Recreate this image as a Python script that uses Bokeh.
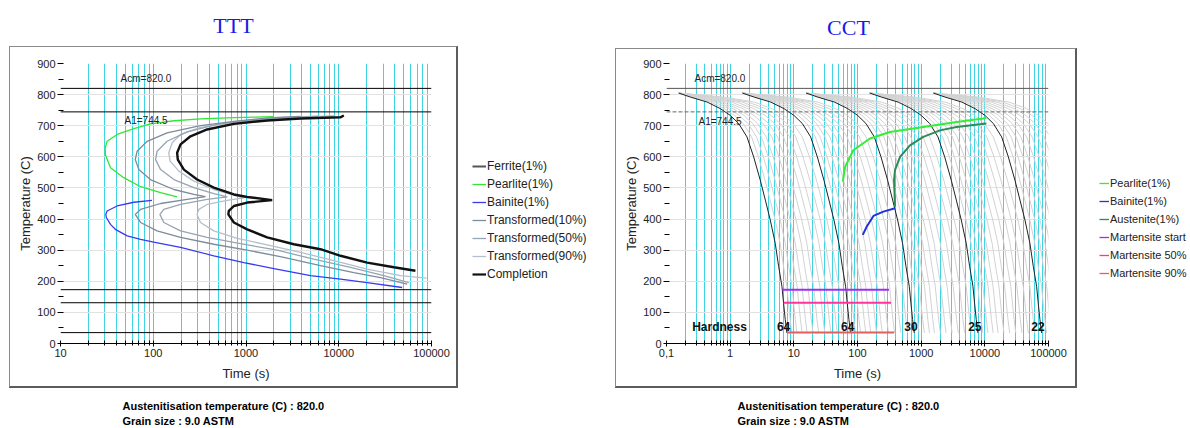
from bokeh.plotting import figure
from bokeh.models import (Span, Label, Legend, LegendItem, FixedTicker,
                          CustomJSTickFormatter, Range1d)
from bokeh.layouts import row, column
from bokeh.embed import file_html
from bokeh.resources import INLINE
from bokeh.core.properties import value

# ---------------- data ----------------
acm_T = 820.0
a1_T = 744.5
mart_T = [173, 131, 35]          # Ms, M50, M90

# TTT curves (time s, temperature C)
ttt_pearlite_t = [2000, 739, 323, 167, 93, 61.8, 40.8, 31.8, 30.3, 30.5, 34.6, 48, 73, 120, 181]
ttt_pearlite_T = [729, 726, 722, 716, 706, 691, 672, 650, 628, 607, 565, 533, 504, 485, 471]

ttt_bainite_t = [97, 61.8, 40.8, 31.8, 30.8, 31.2, 34.6, 39, 52.4, 73, 101, 197, 450, 948, 2000, 4960, 10450, 20240, 48300]
ttt_bainite_T = [460, 454, 442, 426, 415, 405, 383, 367, 346, 335, 326, 309, 282, 260, 241, 218, 207, 196, 180]

ttt_tr10_t = [3870, 1690, 740, 323, 141, 86, 67, 64, 70, 93, 167, 274, 366, 232, 120, 73, 64, 73, 110, 197, 450, 1030, 2560, 6350, 14550, 28200, 54700]
ttt_tr10_T = [730, 725, 714, 700, 677, 650, 618, 591, 559, 527, 495, 479, 472, 463, 450, 431, 415, 389, 362, 341, 319, 300, 277, 250, 228, 212, 191]

ttt_tr50_t = [6000, 2560, 1120, 489, 232, 141, 110, 106, 120, 167, 274, 450, 627, 381, 197, 130, 118, 130, 197, 381, 870, 2170, 5380, 13400, 30600, 57000]
ttt_tr50_T = [731, 727, 719, 704, 680, 650, 618, 591, 559, 527, 501, 482, 471, 463, 447, 431, 415, 389, 362, 341, 321, 300, 271, 245, 218, 196]

ttt_tr90_t = [8850, 3870, 1690, 740, 323, 197, 160, 147, 152, 189, 274, 450, 740, 948, 627, 381, 310, 297, 323, 450, 804, 1690, 3870, 8850, 20240, 46300, 88300]
ttt_tr90_T = [732, 727, 720, 711, 695, 672, 645, 613, 586, 554, 522, 495, 477, 468, 460, 447, 431, 415, 389, 362, 338, 317, 293, 266, 239, 218, 210]

ttt_comp_t = [11350, 10400, 3870, 1690, 740, 381, 252, 197, 181, 184, 214, 297, 450, 740, 1030, 1915, 1030, 740, 653, 645, 740, 1030, 1690, 3280, 6350, 10450, 20240, 39300, 67100]
ttt_comp_T = [733, 727, 723, 717, 706, 688, 666, 640, 613, 591, 559, 527, 501, 479, 471, 461, 453, 442, 426, 415, 389, 367, 341, 319, 303, 282, 260, 245, 234]

# CCT cooling curves: reference curve (fastest black one) and the per-decade groups
cct_base_t = [0.156, 0.238, 0.434, 0.701, 1.007, 1.361, 1.837, 2.339, 2.97, 3.565, 4.266, 5.105, 5.77, 6.50, 6.90, 7.33, 7.78]
cct_base_T = [805, 792, 776, 755, 733, 707, 664, 600, 525, 461, 397, 322, 248, 184, 130, 77, 34]
cct_group_scale = [1, 10, 100, 1000, 10000]
cct_gray_stretch = [1.2, 1.45, 1.75, 2.1, 2.6, 3.2, 4.0, 5.0, 6.3, 8.0]
hardness = ["64", "64", "30", "25", "22"]
hardness_t = [6.9, 70, 690, 6970, 68500]
hardness_T = 54

cct_pearlite_t = [58.7, 64, 86, 157, 324, 1080, 3600, 9420, 10600]
cct_pearlite_T = [520, 568, 621, 659, 680, 696, 712, 723, 726]
cct_austenite_t = [388, 375, 388, 466, 667, 1080, 1970, 3600, 10600]
cct_austenite_T = [440, 525, 557, 600, 637, 664, 685, 696, 707]
cct_bainite_t = [121, 140, 178, 255, 388]
cct_bainite_T = [349, 376, 410, 424, 435]
cct_mart_start = [6.5, 6.9, 7.8]
cct_mart_end = [312, 336, 375]

# ---------------- style ----------------
CYAN = "#3fd4e4"
FONT = "Liberation Sans"
MID_H = 342

TTT_COLORS = {"fer": "#555555", "pea": "#33e633", "bai": "#3a3aee", "tr10": "#7d8b9b",
              "tr50": "#97a4b3", "tr90": "#b4bfcb", "com": "#111111"}
CCT_COLORS = {"pea": "#33ee33", "bai": "#2233dd", "aus": "#2e8b57",
              "ms": "#9b30f0", "m50": "#ff3399", "m90": "#e06060"}


def panel_box_css(l, t, r, b):
    w, h = r - l, b - t
    light, dark = "#8a8a8a", "#5c5c5c"
    g = lambda c: "linear-gradient(%s,%s)" % (c, c)
    return {"background": ", ".join([
        "%s %dpx %dpx/%dpx 1px no-repeat" % (g(light), l, t, w),
        "%s %dpx %dpx/1px %dpx no-repeat" % (g(light), l, t, h),
        "%s %dpx %dpx/2px %dpx no-repeat" % (g(dark), r - 1, t, h + 1),
        "%s %dpx %dpx/%dpx 2px no-repeat" % (g(dark), l, b - 1, w + 1),
        "#ffffff"])}


def blank_fig(width, height, xr=(0, 1), yr=(0, 1)):
    p = figure(width=width, height=height, x_range=Range1d(*xr), y_range=Range1d(*yr),
               output_backend="svg", toolbar_location=None,
               x_axis_location=None, y_axis_location=None,
               min_border_left=0, min_border_right=0, min_border_top=0, min_border_bottom=0)
    p.grid.visible = False
    p.outline_line_color = None
    p.background_fill_color = "white"
    p.border_fill_color = "white"
    return p


def decade_ticker(lo, hi):
    majors = [10.0 ** e for e in range(lo, hi + 1)]
    minors = [k * 10.0 ** e for e in range(lo, hi) for k in range(2, 10)]
    return FixedTicker(ticks=majors, minor_ticks=minors)


def make_fig(width, xr, lo, hi, ml, mr, mt, mb, fmt):
    p = figure(width=width, height=MID_H, x_axis_type="log", x_range=Range1d(*xr),
               y_range=Range1d(0, 900), output_backend="svg", toolbar_location=None,
               min_border_left=ml, min_border_right=mr, min_border_top=mt, min_border_bottom=mb)
    p.outline_line_color = None
    p.background_fill_color = "white"
    p.border_fill_color = None
    xt = decade_ticker(lo, hi)
    yt = FixedTicker(ticks=list(range(0, 901, 100)), minor_ticks=list(range(50, 900, 100)))
    p.xaxis.ticker = xt
    p.yaxis.ticker = yt
    p.xgrid.ticker = xt
    p.ygrid.ticker = yt
    p.xgrid.grid_line_color = CYAN
    p.xgrid.minor_grid_line_color = CYAN
    p.ygrid.grid_line_color = "#e2e2e2"
    p.xaxis.formatter = CustomJSTickFormatter(code=fmt)
    for ax in (p.xaxis[0], p.yaxis[0]):
        ax.major_label_text_font = FONT
        ax.major_label_text_font_size = "11px"
        ax.major_label_text_color = "#222222"
        ax.axis_label_text_font = FONT
        ax.axis_label_text_font_size = "13px"
        ax.axis_label_text_font_style = "normal"
        ax.axis_label_text_color = "#222222"
        ax.major_tick_line_color = "black"
        ax.minor_tick_line_color = "black"
        ax.major_tick_in = 3
        ax.major_tick_out = 3
        ax.minor_tick_in = 3
        ax.minor_tick_out = 2
        ax.major_label_standoff = 2
    p.xaxis.axis_label_standoff = 6
    p.yaxis.axis_label_standoff = 1
    p.xaxis.axis_line_color = "black"
    p.yaxis.axis_line_color = None
    p.xaxis.axis_label = "Time (s)"
    p.yaxis.axis_label = "Temperature (C)"
    return p


def text_label(p, x, y, text, size="10px", style="normal", align="left", color="#222222", font=FONT):
    p.add_layout(Label(x=x, y=y, text=text, text_font=font, text_font_size=size,
                       text_font_style=style, text_align=align, text_baseline="middle",
                       text_color=color))


def style_legend(leg, size, gw):
    leg.glyph_width = gw
    leg.glyph_height = 14
    leg.label_height = 15
    leg.spacing = 3
    leg.padding = 0
    leg.margin = 0
    leg.label_standoff = 1
    leg.label_text_font = FONT
    leg.label_text_font_size = size
    leg.label_text_color = "#222222"
    leg.background_fill_alpha = 0
    leg.border_line_color = None


# ---------------- titles strip ----------------
top = blank_fig(1190, 46, (0, 1190), (0, 46))
text_label(top, 233, 21, "TTT", size="22px", align="center", color="#1a1ae6", font="Liberation Serif")
text_label(top, 848, 19, "CCT", size="22px", align="center", color="#1a1ae6", font="Liberation Serif")

# ---------------- footer strip ----------------
bottom = blank_fig(1190, 40, (0, 1190), (0, 40))
for x0 in (122, 737):
    text_label(bottom, x0, 23, "Austenitisation temperature (C) : 820.0", size="11px", style="bold", color="black")
    text_label(bottom, x0, 8, "Grain size : 9.0 ASTM", size="11px", style="bold", color="black")

# ---------------- TTT ----------------
p1 = make_fig(458, (10, 100000), 1, 5, 60, 27, 16, 45, "return String(Math.round(tick));")
p1.styles = panel_box_css(9, 0, 457, 341)

for T in [acm_T, a1_T] + mart_T:
    p1.add_layout(Span(location=T, dimension="width", line_color="black", line_width=1))

p1.line(ttt_tr90_t, ttt_tr90_T, line_color=TTT_COLORS["tr90"], line_width=1.3)
p1.line(ttt_tr50_t, ttt_tr50_T, line_color=TTT_COLORS["tr50"], line_width=1.3)
p1.line(ttt_tr10_t, ttt_tr10_T, line_color=TTT_COLORS["tr10"], line_width=1.3)
p1.line(ttt_pearlite_t, ttt_pearlite_T, line_color=TTT_COLORS["pea"], line_width=1.3)
p1.line(ttt_bainite_t, ttt_bainite_T, line_color=TTT_COLORS["bai"], line_width=1.3)
p1.line(ttt_comp_t, ttt_comp_T, line_color=TTT_COLORS["com"], line_width=2.4)

text_label(p1, 44.4, 853, "Acm=820.0")
text_label(p1, 49, 717, "A1=744.5")

# TTT legend panel (proxy renderers sit outside its visible window)
L1 = blank_fig(142, MID_H, (-2, -1), (-2, -1))
leg_specs1 = [("Ferrite(1%)", "fer", ttt_pearlite_t, ttt_pearlite_T, 2),
              ("Pearlite(1%)", "pea", ttt_pearlite_t, ttt_pearlite_T, 1.3),
              ("Bainite(1%)", "bai", ttt_bainite_t, ttt_bainite_T, 1.3),
              ("Transformed(10%)", "tr10", ttt_tr10_t, ttt_tr10_T, 1.3),
              ("Transformed(50%)", "tr50", ttt_tr50_t, ttt_tr50_T, 1.3),
              ("Transformed(90%)", "tr90", ttt_tr90_t, ttt_tr90_T, 1.3),
              ("Completion", "com", ttt_comp_t, ttt_comp_T, 2.2)]
items1 = []
for lab, key, xs, ys, lw in leg_specs1:
    r = L1.line(xs, ys, line_color=TTT_COLORS[key], line_width=lw)
    items1.append(LegendItem(label=lab, renderers=[r]))
leg1 = Legend(items=items1, location=(14, 62))
style_legend(leg1, "12px", 14)
L1.add_layout(leg1)

# ---------------- CCT ----------------
p2 = make_fig(478, (0.1, 100000), -1, 5, 66, 30, 17, 44,
              "return tick < 1 ? '0,1' : String(Math.round(tick));")
p2.styles = panel_box_css(15, 2, 476, 341)

p2.add_layout(Span(location=acm_T, dimension="width", line_color="#555555", line_width=1))
p2.add_layout(Span(location=a1_T, dimension="width", line_color="#666666", line_width=1,
                   line_dash="4 2"))

t0 = cct_base_t[0]
gray_xs, gray_ys = [], []
for g in cct_group_scale:
    for s in cct_gray_stretch:
        gray_xs.append([g * (t0 + (tb - t0) * s) for tb in cct_base_t])
        gray_ys.append(cct_base_T)
black_xs = [[g * tb for tb in cct_base_t] for g in cct_group_scale]
black_ys = [cct_base_T for _ in cct_group_scale]

p2.multi_line(gray_xs, gray_ys, line_color="#d2d2d2", line_width=1)
p2.multi_line(black_xs, black_ys, line_color="#222222", line_width=1)

for i, key in enumerate(["ms", "m50", "m90"]):
    p2.segment(x0=[cct_mart_start[i]], x1=[cct_mart_end[i]], y0=[mart_T[i]], y1=[mart_T[i]],
               line_color=CCT_COLORS[key], line_width=2)
p2.line(cct_pearlite_t, cct_pearlite_T, line_color=CCT_COLORS["pea"], line_width=2)
p2.line(cct_austenite_t, cct_austenite_T, line_color=CCT_COLORS["aus"], line_width=2)
p2.line(cct_bainite_t, cct_bainite_T, line_color=CCT_COLORS["bai"], line_width=2)

p2.text(x=hardness_t, y=[hardness_T] * len(hardness_t), text=hardness,
        text_font=value(FONT), text_font_style="bold", text_font_size="12px",
        text_align="center", text_baseline="middle", text_color="#111111")
text_label(p2, 0.253, hardness_T, "Hardness", size="12px", style="bold", color="#111111")
text_label(p2, 0.275, 851, "Acm=820.0")
text_label(p2, 0.318, 715, "A1=744.5")

# CCT legend panel
L2 = blank_fig(112, MID_H, (-2, -1), (-2, -1))
items2 = []
for lab, key, xs, ys in [("Pearlite(1%)", "pea", cct_pearlite_t, cct_pearlite_T),
                         ("Bainite(1%)", "bai", cct_bainite_t, cct_bainite_T),
                         ("Austenite(1%)", "aus", cct_austenite_t, cct_austenite_T)]:
    r = L2.line(xs, ys, line_color=CCT_COLORS[key], line_width=1.3)
    items2.append(LegendItem(label=lab, renderers=[r]))
for i, (lab, key) in enumerate([("Martensite start", "ms"), ("Martensite 50%", "m50"),
                                ("Martensite 90%", "m90")]):
    r = L2.segment(x0=[cct_mart_start[i]], x1=[cct_mart_end[i]], y0=[mart_T[i]], y1=[mart_T[i]],
                   line_color=CCT_COLORS[key], line_width=1.3)
    items2.append(LegendItem(label=lab, renderers=[r]))
leg2 = Legend(items=items2, location=(21, 63))
style_legend(leg2, "11px", 10)
L2.add_layout(leg2)

layout = column(top, row(p1, L1, p2, L2), bottom)
open("out.html", "w").write(file_html(layout, INLINE))
